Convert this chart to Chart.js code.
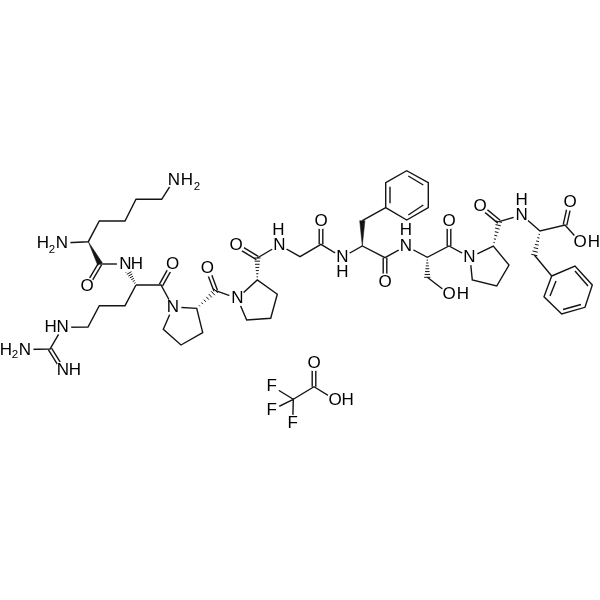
<!DOCTYPE html>
<html>
<head>
<meta charset="utf-8">
<style>
  html, body { margin: 0; padding: 0; background: #fff; }
  canvas { display: block; }
</style>
<script src="https://cdn.jsdelivr.net/npm/chart.js@4"></script>
</head>
<body>
<canvas id="molecule" width="600" height="600"></canvas>
<script>
// single bonds, each list is one zig-zag
const lysineChain = [[174,180],[161.7,199.3],[136,199.3],[125,221],[99.3,221],[88.3,241.7],[62,243]];
const lysineAmide = [[100,264],[125.3,264]];
const arginineSide = [[136,285],[125,305.7],[99.3,305.7],[88,327],[62.7,327.3],[50,349],[25,349.5]];
const arginineBack = [[136,285],[161,285],[173,307]];
const prolineRingA = [[173,307],[196.7,308.3],[202.7,332.7],[181,345],[163.3,329.3],[173,307]];
const prolineLinkA = [[215.7,290.7],[237.3,298.3]];
const prolineRingB = [[237.3,298.3],[257.3,280],[277.3,294.3],[270.7,318.3],[246.7,320],[237.3,298.3]];
const glycineLink = [[257.3,258],[279.3,245],[300,256.7],[321,244.3],[342.3,257.3],[362.3,246],[385,257.7],[406,246],[427.3,257.3],[449,246],[470,257.3]];
const benzylArm = [[362.3,220.7],[385.7,207.7]];
const benzeneA = [[385.7,207.7],[385.7,182.7],[406.7,170.7],[428.3,182.7],[428.3,207.7],[406.7,220],[385.7,207.7]];
const serineArm = [[427.3,277.3],[449,294]];
const prolineRingC = [[470,257.3],[493.3,246],[509,265],[496.7,286],[472.3,280],[470,257.3]];
const lastAmide = [[499,221.7],[521.7,215],[540,231],[565,225],[580,241.7]];
const benzylArmB = [[534.3,255],[551.7,276]];
const benzeneB = [[551.7,276],[544,296.7],[561.7,314],[585,307.3],[592.3,285],[575,266],[551.7,276]];
const tfaChain = [[271.7,386],[293.3,399.3],[314,386.7],[335,399.7]];
const tfaFluorines = [[271.7,410],[293.3,399.3],[292.7,423.3]];
const ringInnerLines = [
  [[390,186.7],[390,203.3]], [[408.3,176],[423.3,185]], [[423.3,205],[408.3,215]],
  [[556,281],[550,296]], [[575,271],[588,286]], [[563,309.5],[581,304.5]]
];

// from, to
const doubleBonds = [
  [[100,264],[87,286]], [[161,285],[172.7,264]], [[215.7,290.7],[207.3,268.3]],
  [[257.3,258],[236,245]], [[321,244.3],[321,220.7]], [[385,257.7],[385,281.7]],
  [[449,246],[449,220.7]], [[499,221.7],[480,206]], [[565,225],[570,202.3]],
  [[50,349],[63,370]], [[314,386.7],[314,362.7]]
];
// narrow end, wide end
const wedgeBonds = [[[88.3,241.7],[100,264]], [[362.3,246],[362.3,220.7]]];
const hashBonds = [
  [[136,285],[128,271]], [[196.7,308.3],[215.7,290.7]], [[257.3,280],[257.3,258]],
  [[427.3,257.3],[427.3,277.3]], [[493.3,246],[499,221.7]], [[540,231],[534.3,255]]
];

// atom letters, one glyph per entry
const labelText = ['N','H','2', 'H','2','N', 'N','H', 'H','N', 'H','2','N', 'N','H', 'O','O','O','O',
  'N','N','N','H','O','N','H','O','N','H','O','O','H','N',
  'O','N','H','O','O','H', 'F','F','F','O','O','H'];
const labelX = [174,187,197, 43,52,62, 125.3,137, 50.7,62.7, 6,15,25, 63,75, 87,172.7,207.3,236,
  173,237.3,279.3,278.3,321,342.3,342.3,385,406,406,449,449,463,469.5,
  480,521.7,521.7,570,580,594, 271.7,271.7,292.7,314,335,347.7];
const labelY = [180,180,186, 243,249,243, 264,264, 327.3,327.3, 349.5,354.5,349.5, 370,370, 286,264,268.3,245,
  307,298.3,245,230,220.7,257.3,271.7,281.7,246,230,220.7,294,294,257,
  206,215,200,202.3,241.7,241.7, 386,410,423.3,362.7,399.7,399.7];

const polylines = [lysineChain, lysineAmide, arginineSide, arginineBack, prolineRingA, prolineLinkA,
  prolineRingB, glycineLink, benzylArm, benzeneA, serineArm, prolineRingC, lastAmide, benzylArmB,
  benzeneB, tfaChain, tfaFluorines].concat(ringInnerLines);

const bondColor = '#141414';

function toPoints(list) {
  return list.map(function (p) { return { x: p[0], y: p[1] }; });
}

function lineSet(list, width) {
  return {
    data: toPoints(list),
    showLine: true,
    borderColor: bondColor,
    borderWidth: width || 1.4,
    pointRadius: 0,
    fill: false,
    tension: 0
  };
}

function sideways(a, b, amount) {
  const dx = b[0] - a[0];
  const dy = b[1] - a[1];
  const len = Math.sqrt(dx * dx + dy * dy);
  return [-dy / len * amount, dx / len * amount];
}

const datasets = polylines.map(function (p) { return lineSet(p); });

doubleBonds.forEach(function (b) {
  const o = sideways(b[0], b[1], 1.8);
  datasets.push(lineSet([[b[0][0] + o[0], b[0][1] + o[1]], [b[1][0] + o[0], b[1][1] + o[1]]]));
  datasets.push(lineSet([[b[0][0] - o[0], b[0][1] - o[1]], [b[1][0] - o[0], b[1][1] - o[1]]]));
});

wedgeBonds.forEach(function (b) {
  const o = sideways(b[0], b[1], 2.6);
  const set = lineSet([b[0], [b[1][0] + o[0], b[1][1] + o[1]], [b[1][0] - o[0], b[1][1] - o[1]], b[0]], 0.5);
  set.fill = 'shape';
  set.backgroundColor = bondColor;
  datasets.push(set);
});

hashBonds.forEach(function (b) {
  const steps = 7;
  for (let i = 1; i <= steps; i++) {
    const t = i / steps;
    const c = [b[0][0] + (b[1][0] - b[0][0]) * t, b[0][1] + (b[1][1] - b[0][1]) * t];
    const o = sideways(b[0], b[1], 2.8 * t + 0.3);
    datasets.push(lineSet([[c[0] + o[0], c[1] + o[1]], [c[0] - o[0], c[1] - o[1]]], 1));
  }
});

// atom letters go on top, with a white patch so bonds stop short of them
const atomLabels = {
  id: 'atomLabels',
  afterDatasetsDraw: function (chart) {
    const ctx = chart.ctx;
    const xs = chart.scales.x;
    const ys = chart.scales.y;
    ctx.save();
    ctx.textAlign = 'center';
    ctx.textBaseline = 'middle';
    labelText.forEach(function (t, i) {
      if (t === '2') return;
      ctx.fillStyle = '#fff';
      ctx.beginPath();
      ctx.arc(xs.getPixelForValue(labelX[i]), ys.getPixelForValue(labelY[i]), 8.5, 0, Math.PI * 2);
      ctx.fill();
    });
    labelText.forEach(function (t, i) {
      ctx.fillStyle = '#000';
      ctx.font = (t === '2' ? '11.5px' : '17px') + ' "Liberation Sans", Arial, sans-serif';
      ctx.fillText(t, xs.getPixelForValue(labelX[i]), ys.getPixelForValue(labelY[i]) + 0.5);
    });
    ctx.restore();
  }
};

const ctx = document.getElementById('molecule').getContext('2d');
new Chart(ctx, {
  type: 'scatter',
  data: { datasets: datasets },
  plugins: [atomLabels],
  options: {
    responsive: false,
    animation: false,
    layout: { padding: 0 },
    plugins: { legend: { display: false }, tooltip: { enabled: false } },
    scales: {
      x: { type: 'linear', min: 0, max: 600, display: false },
      y: { type: 'linear', min: 0, max: 600, reverse: true, display: false }
    }
  }
});
</script>
</body>
</html>
